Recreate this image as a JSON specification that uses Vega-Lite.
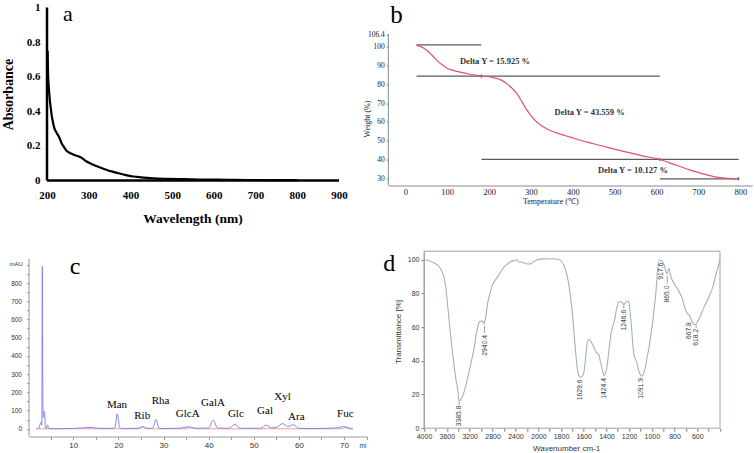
{
  "$schema": "https://vega.github.io/schema/vega-lite/v6.json",
  "background": "white",
  "padding": {"left": 1, "top": 1.5, "right": 0, "bottom": 0},
  "autosize": {"type": "pad"},
  "columns": 2,
  "bounds": "flush",
  "align": "each",
  "spacing": {"row": 65.7, "column": 21.3},
  "config": {
    "view": {"stroke": null},
    "axis": {"grid": false, "labelFlush": false, "labelOverlap": false, "tickCount": 1000}
  },
  "concat": [
        {
          "width": 337.7,
          "height": 173,
          "layer": [
            {
              "data": {"values": [
                {"x":201.5,"y":0.75},{"x":202.5,"y":0.62},{"x":204,"y":0.55},{"x":205.5,"y":0.5},{"x":207,"y":0.46},{"x":209,"y":0.42},{"x":211,"y":0.38},{"x":214,"y":0.34},{"x":218,"y":0.30},{"x":222,"y":0.28},{"x":227,"y":0.26},{"x":231,"y":0.24},{"x":235,"y":0.215},{"x":239,"y":0.20},{"x":243,"y":0.185},{"x":247,"y":0.172},{"x":253,"y":0.162},{"x":259,"y":0.154},{"x":265,"y":0.148},{"x":271,"y":0.143},{"x":277,"y":0.138},{"x":283,"y":0.131},{"x":289,"y":0.12},{"x":295,"y":0.11},{"x":303,"y":0.1},{"x":311,"y":0.091},{"x":323,"y":0.079},{"x":335,"y":0.068},{"x":347,"y":0.058},{"x":359,"y":0.05},{"x":371,"y":0.042},{"x":383,"y":0.035},{"x":395,"y":0.028},{"x":407,"y":0.023},{"x":427,"y":0.018},{"x":447,"y":0.0135},{"x":467,"y":0.011},{"x":487,"y":0.0097},{"x":527,"y":0.0075},{"x":566,"y":0.0058},{"x":606,"y":0.0048},{"x":646,"y":0.0039},{"x":686,"y":0.003},{"x":726,"y":0.0022},{"x":766,"y":0.002},{"x":800,"y":0.002}
              ]},
              "mark": {"type": "line", "color": "black", "strokeWidth": 2.2, "interpolate": "monotone"},
              "encoding": {
                "x": {"field": "x", "type": "quantitative", "title": "Wavelength (nm)",
                  "scale": {"domain": [156.85, 966.4], "nice": false, "zero": false},
                  "axis": {"values": [200,300,400,500,600,700,800,900], "tickCount": 1000, "format": "d", "labelOverlap": false, "domain": false, "ticks": false, "tickSize": 0, "labelPadding": 9,
                    "labelFont": "Liberation Serif", "labelFontWeight": "bold", "labelFontSize": 11, "labelColor": "black",
                    "titleFont": "Liberation Serif", "titleFontWeight": "bold", "titleFontSize": 13.5, "titleColor": "black", "titlePadding": 11, "titleX": 163.5, "titleAlign": "center"}},
                "y": {"field": "y", "type": "quantitative", "title": "Absorbance",
                  "scale": {"domain": [0, 1], "nice": false, "zero": false},
                  "axis": {"values": [0,0.2,0.4,0.6,0.8,1], "tickCount": 1000, "format": ".1~f", "labelOverlap": false, "domain": false, "ticks": false, "tickSize": 0, "offset": -18, "labelPadding": 7,
                    "labelFont": "Liberation Serif", "labelFontWeight": "bold", "labelFontSize": 11, "labelColor": "black",
                    "titleFont": "Liberation Serif", "titleFontWeight": "bold", "titleFontSize": 14, "titleColor": "black", "titlePadding": 11}}
              }
            },
            {
              "data": {"values": [
                {"x":200,"y":0,"x2":200,"y2":1},
                {"x":200,"y":0,"x2":900,"y2":0}
              ]},
              "mark": {"type": "rule", "color": "black", "strokeWidth": 2.5},
              "encoding": {
                "x": {"field": "x", "type": "quantitative", "title": "Wavelength (nm)"},
                "x2": {"field": "x2"},
                "y": {"field": "y", "type": "quantitative", "title": "Absorbance"},
                "y2": {"field": "y2"}
              }
            },
            {
              "data": {"values": [{"x": 250, "y": 0.921, "t": "a"}]},
              "mark": {"type": "text", "font": "Liberation Serif", "fontSize": 22, "align": "center", "baseline": "alphabetic", "color": "black"},
              "encoding": {
                "x": {"field": "x", "type": "quantitative", "title": "Wavelength (nm)"},
                "y": {"field": "y", "type": "quantitative", "title": "Absorbance"},
                "text": {"field": "t"}
              }
            }
          ]
        },
        {
          "width": 364,
          "height": 178,
          "layer": [
            {
              "data": {"values": [
                {"x":-40.6,"y":26.46,"x2":-40.6,"y2":106.4}
              ]},
              "mark": {"type": "rule", "color": "#8a8a8a", "strokeWidth": 1},
              "encoding": {
                "x": {"field": "x", "type": "quantitative", "title": "Temperature (℃)",
                  "scale": {"domain": [-40.6, 828.7], "nice": false, "zero": false},
                  "axis": {"values": [0,100,200,300,400,500,600,700,800], "tickCount": 1000, "format": "d", "labelOverlap": false, "domainColor": "#8a8a8a", "ticks": false, "labelPadding": 2,
                    "labelFont": "Liberation Serif", "labelFontSize": 8.5, "labelColor": "#222",
                    "titleFont": "Liberation Serif", "titleFontSize": 8, "titleFontWeight": "normal", "titleColor": "#222", "titlePadding": 1, "titleX": 162, "titleAlign": "center"}},
                "x2": {"field": "x2"},
                "y": {"field": "y", "type": "quantitative", "title": "Weight (%)",
                  "scale": {"domain": [26.46, 120.43], "nice": false, "zero": false},
                  "axis": {"values": [30,40,50,60,70,80,90,100,106.4], "tickCount": 1000, "format": ".4~g", "labelOverlap": false, "domain": false, "tickSize": 2, "tickColor": "#8a8a8a", "labelPadding": 2,
                    "labelFont": "Liberation Serif", "labelFontSize": 7.5, "labelColor": "#222",
                    "titleFont": "Liberation Serif", "titleFontSize": 8, "titleFontWeight": "normal", "titleColor": "#222", "titlePadding": -4, "titleY": 111}},
                "y2": {"field": "y2"}
              }
            },
            {
              "data": {"values": [
                {"x":27,"x2":181.5,"y":100.7,"y2":100.7},
                {"x":27,"x2":608,"y":84.2,"y2":84.2},
                {"x":182,"x2":796,"y":40.2,"y2":40.2},
                {"x":608,"x2":796,"y":30.0,"y2":30.0},
                {"x":181.5,"x2":181.5,"y":83.4,"y2":85.0},
                {"x":608,"x2":608,"y":39.4,"y2":41.0},
                {"x":796,"x2":796,"y":29.2,"y2":30.8}
              ]},
              "mark": {"type": "rule", "color": "#5a5a5a", "strokeWidth": 1.2},
              "encoding": {
                "x": {"field": "x", "type": "quantitative", "title": "Temperature (℃)"},
                "x2": {"field": "x2"},
                "y": {"field": "y", "type": "quantitative", "title": "Weight (%)"},
                "y2": {"field": "y2"}
              }
            },
            {
              "data": {"values": [
                {"x":26,"y":100.4},{"x":40,"y":99.5},{"x":52,"y":97.7},{"x":64,"y":95.2},{"x":76,"y":92.4},{"x":88,"y":90.2},{"x":100,"y":88.4},{"x":115,"y":87.2},{"x":131,"y":86.3},{"x":155,"y":85.2},{"x":179,"y":84.4},{"x":195,"y":84},{"x":211,"y":83.3},{"x":228,"y":82.2},{"x":243,"y":80.1},{"x":255,"y":77.8},{"x":267,"y":74.8},{"x":279,"y":70.5},{"x":291,"y":66.1},{"x":303,"y":62.5},{"x":314,"y":59.9},{"x":330,"y":57.4},{"x":346,"y":55.5},{"x":370,"y":53.6},{"x":394,"y":52},{"x":420,"y":50.2},{"x":450,"y":48.5},{"x":490,"y":46.2},{"x":529,"y":44.1},{"x":568,"y":42},{"x":607,"y":40.3},{"x":628,"y":38.7},{"x":649,"y":37},{"x":673,"y":35.2},{"x":697,"y":33.5},{"x":720,"y":32.1},{"x":744,"y":30.9},{"x":770,"y":30.2},{"x":796,"y":29.9}
              ]},
              "mark": {"type": "line", "color": "#e2506a", "strokeWidth": 1.2, "interpolate": "monotone"},
              "encoding": {
                "x": {"field": "x", "type": "quantitative", "title": "Temperature (℃)"},
                "y": {"field": "y", "type": "quantitative", "title": "Weight (%)"}
              }
            },
            {
              "data": {"values": [
                {"x":130.6,"y":92.45,"t":"Delta Y = 15.925 %"},
                {"x":356.6,"y":65.2,"t":"Delta Y = 43.559 %"},
                {"x":460,"y":34.4,"t":"Delta Y = 10.127 %"}
              ]},
              "mark": {"type": "text", "font": "Liberation Serif", "fontSize": 8.5, "fontWeight": "bold", "align": "left", "baseline": "middle", "color": "#333"},
              "encoding": {
                "x": {"field": "x", "type": "quantitative", "title": "Temperature (℃)"},
                "y": {"field": "y", "type": "quantitative", "title": "Weight (%)"},
                "text": {"field": "t"}
              }
            },
            {
              "data": {"values": [{"x": -35.8, "y": 112, "t": "b"}]},
              "mark": {"type": "text", "font": "Liberation Serif", "fontSize": 25, "align": "left", "baseline": "alphabetic", "color": "black"},
              "encoding": {
                "x": {"field": "x", "type": "quantitative", "title": "Temperature (℃)"},
                "y": {"field": "y", "type": "quantitative", "title": "Weight (%)"},
                "text": {"field": "t"}
              }
            }
          ]
        },
        {
          "width": 337.7,
          "height": 185.3,
          "layer": [
            {
              "data": {"values": [
                {"x":0.18,"y":-42.3,"x2":0.18,"y2":934}
              ]},
              "mark": {"type": "rule", "color": "#999999", "strokeWidth": 1},
              "encoding": {
                "x": {"field": "x", "type": "quantitative", "title": "mi",
                  "scale": {"domain": [0.18, 75.03], "nice": false, "zero": false},
                  "axis": {"values": [5,10,15,20,25,30,35,40,45,50,55,60,65,70,75], "tickCount": 1000, "labelExpr": "datum.value % 10 == 0 ? datum.label : ''", "format": "d", "labelOverlap": false,
                    "domainColor": "#999999", "tickColor": "#999999", "tickSize": 3, "labelPadding": 2,
                    "labelFont": "Liberation Sans", "labelFontSize": 8, "labelColor": "#333",
                    "titleFont": "Liberation Sans", "titleFontSize": 6.5, "titleFontWeight": "normal", "titleColor": "#333",
                    "titleX": 330, "titleY": 9, "titleAlign": "left", "titleBaseline": "middle"}},
                "x2": {"field": "x2"},
                "y": {"field": "y", "type": "quantitative", "title": "mAU",
                  "scale": {"domain": [-42.3, 975.8], "nice": false, "zero": false},
                  "axis": {"values": [0,50,100,150,200,250,300,350,400,450,500,550,600,650,700,750,800,850,900], "tickCount": 1000, "labelExpr": "datum.value % 100 == 0 && datum.value <= 800 ? datum.label : ''", "format": "d", "labelOverlap": false,
                    "domain": false, "tickColor": "#999999", "tickSize": 2.5, "labelPadding": 5,
                    "labelFont": "Liberation Sans", "labelFontSize": 6.5, "labelColor": "#333",
                    "titleFont": "Liberation Sans", "titleFontSize": 6, "titleFontWeight": "normal", "titleColor": "#333",
                    "titleAngle": 0, "titleX": -20, "titleY": 12.3, "titleAlign": "left", "titleBaseline": "middle"}},
                "y2": {"field": "y2"}
              }
            },
            {
              "data": {"values": [
                {"x":1.8,"y":0},{"x":10,"y":0},{"x":19.3,"y":0},{"x":19.7,"y":3},{"x":20.2,"y":0},{"x":24.6,"y":0},{"x":25.3,"y":8},{"x":26.2,"y":0},{"x":35,"y":0},{"x":35.8,"y":6},{"x":37,"y":0},{"x":52.5,"y":0},{"x":53.2,"y":4},{"x":54,"y":0},{"x":69.5,"y":0},{"x":70.3,"y":6},{"x":71,"y":0},{"x":72,"y":0}
              ]},
              "mark": {"type": "line", "color": "#f0a0a0", "strokeWidth": 1},
              "encoding": {
                "x": {"field": "x", "type": "quantitative", "title": "mi"},
                "y": {"field": "y", "type": "quantitative", "title": "mAU"}
              }
            },
            {
              "data": {"values": [
                {"x":1.8,"y":0},{"x":2.4,"y":5},{"x":2.7,"y":30},{"x":2.9,"y":38},{"x":3.02,"y":20},{"x":3.13,"y":893},{"x":3.25,"y":160},{"x":3.35,"y":60},{"x":3.5,"y":95},{"x":3.65,"y":90},{"x":3.8,"y":10},{"x":4.0,"y":2},{"x":4.3,"y":22},{"x":4.5,"y":2},{"x":6,"y":0},{"x":10,"y":2},{"x":12,"y":5},{"x":13.7,"y":8},{"x":15.5,"y":3},{"x":18,"y":2},{"x":19.2,"y":5},{"x":19.75,"y":82},{"x":20.3,"y":5},{"x":21,"y":1},{"x":24.5,"y":3},{"x":25.4,"y":13},{"x":26.3,"y":3},{"x":27.6,"y":3},{"x":28.3,"y":51},{"x":29,"y":3},{"x":30,"y":1},{"x":33.5,"y":3},{"x":35.6,"y":11},{"x":37,"y":3},{"x":40,"y":4},{"x":41,"y":48},{"x":42,"y":4},{"x":44.5,"y":3},{"x":45.8,"y":24},{"x":47,"y":3},{"x":51.5,"y":3},{"x":52.8,"y":20},{"x":54,"y":5},{"x":55,"y":8},{"x":56.4,"y":29},{"x":57.5,"y":12},{"x":58.8,"y":22},{"x":60,"y":3},{"x":62,"y":1},{"x":68.5,"y":5},{"x":69.9,"y":13},{"x":71,"y":5},{"x":72,"y":0}
              ]},
              "mark": {"type": "line", "color": "#8485f0", "strokeWidth": 1, "interpolate": "monotone"},
              "encoding": {
                "x": {"field": "x", "type": "quantitative", "title": "mi"},
                "y": {"field": "y", "type": "quantitative", "title": "mAU"}
              }
            },
            {
              "data": {"values": [
                {"x":19.69,"y":133.5,"t":"Man"},
                {"x":25.27,"y":68.1,"t":"Rib"},
                {"x":29.33,"y":151.1,"t":"Rha"},
                {"x":35.35,"y":78.6,"t":"GlcA"},
                {"x":40.96,"y":144.0,"t":"GalA"},
                {"x":46.02,"y":78.6,"t":"Glc"},
                {"x":52.49,"y":100.5,"t":"Gal"},
                {"x":56.37,"y":172.5,"t":"Xyl"},
                {"x":59.43,"y":66.5,"t":"Ara"},
                {"x":70.29,"y":78.6,"t":"Fuc"}
              ]},
              "mark": {"type": "text", "font": "Liberation Serif", "fontSize": 11, "align": "center", "baseline": "middle", "color": "black"},
              "encoding": {
                "x": {"field": "x", "type": "quantitative", "title": "mi"},
                "y": {"field": "y", "type": "quantitative", "title": "mAU"},
                "text": {"field": "t"}
              }
            },
            {
              "data": {"values": [{"x": 10.4, "y": 853, "t": "c"}]},
              "mark": {"type": "text", "font": "Liberation Serif", "fontSize": 24, "align": "center", "baseline": "alphabetic", "color": "black"},
              "encoding": {
                "x": {"field": "x", "type": "quantitative", "title": "mi"},
                "y": {"field": "y", "type": "quantitative", "title": "mAU"},
                "text": {"field": "t"}
              }
            }
          ]
        },
        {
          "width": 331.7,
          "height": 177,
          "layer": [
            {
              "data": {"values": [{"x": 4000, "x2": 400, "y": 0, "y2": 105.1}]},
              "mark": {"type": "rect", "fill": null, "fillOpacity": 0, "stroke": "#9aa6aa", "strokeWidth": 1},
              "encoding": {
                "x": {"field": "x", "type": "quantitative", "title": "Wavenumber cm-1",
                  "scale": {"domain": [4625, 4000, 2000, 400], "range": [0, 35.7, 150, 331.7], "nice": false, "zero": false},
                  "axis": {"values": [4000,3800,3600,3400,3200,3000,2800,2600,2400,2200,2000,1900,1800,1700,1600,1500,1400,1300,1200,1100,1000,900,800,700,600,500,400], "tickCount": 1000,
                    "labelExpr": "(datum.value >= 2000 ? datum.value % 400 == 0 : (datum.value % 200 == 0 && datum.value > 400)) ? datum.label : ''", "format": "d", "labelOverlap": false,
                    "domain": false, "tickColor": "#777", "tickSize": 3, "labelPadding": 1.5,
                    "labelFont": "Liberation Sans", "labelFontSize": 7, "labelColor": "#333",
                    "titleFont": "Liberation Sans", "titleFontSize": 8, "titleFontWeight": "normal", "titleColor": "#333", "titlePadding": 4.5, "titleX": 177.8, "titleAlign": "center"}},
                "x2": {"field": "x2"},
                "y": {"field": "y", "type": "quantitative", "title": "Transmittance [%]",
                  "scale": {"domain": [0, 105.1], "nice": false, "zero": false},
                  "axis": {"values": [0,20,40,60,80,100], "tickCount": 1000, "format": "d", "labelOverlap": false, "offset": -35.7, "domainColor": "#9aa6aa", "tickColor": "#777", "tickSize": 3, "labelPadding": 2,
                    "labelFont": "Liberation Sans", "labelFontSize": 7, "labelColor": "#333",
                    "titleFont": "Liberation Sans", "titleFontSize": 8, "titleFontWeight": "normal", "titleColor": "#333", "titlePadding": 5, "titleY": 80.3}},
                "y2": {"field": "y2"}
              }
            },
            {
              "data": {"values": [
                {"x":4000,"y":100},{"x":3825,"y":98.2},{"x":3708,"y":94.7},{"x":3650,"y":89.5},{"x":3620,"y":84},{"x":3592,"y":75},{"x":3563,"y":65},{"x":3534,"y":55},{"x":3505,"y":46},{"x":3475,"y":37.5},{"x":3446,"y":30},{"x":3417,"y":24.5},{"x":3400,"y":20},{"x":3386,"y":16},{"x":3360,"y":16.8},{"x":3330,"y":18.5},{"x":3300,"y":21.4},{"x":3256,"y":27},{"x":3213,"y":33},{"x":3170,"y":40},{"x":3126,"y":47},{"x":3090,"y":55},{"x":3067,"y":59},{"x":3040,"y":62.5},{"x":3021,"y":63.5},{"x":2990,"y":63.6},{"x":2965,"y":63},{"x":2950,"y":62},{"x":2935,"y":63.5},{"x":2910,"y":68},{"x":2892,"y":72.9},{"x":2850,"y":79.5},{"x":2805,"y":84.8},{"x":2760,"y":87.5},{"x":2717,"y":89.7},{"x":2660,"y":92.8},{"x":2601,"y":95.6},{"x":2540,"y":97.5},{"x":2484,"y":99},{"x":2420,"y":99.5},{"x":2367,"y":100},{"x":2350,"y":99},{"x":2338,"y":98.5},{"x":2300,"y":98.8},{"x":2251,"y":98.2},{"x":2190,"y":97.5},{"x":2134,"y":97.6},{"x":2090,"y":98.6},{"x":2047,"y":99.6},{"x":1979,"y":100.4},{"x":1891,"y":100.6},{"x":1850,"y":100.5},{"x":1818,"y":100.2},{"x":1795,"y":99},{"x":1774,"y":96.6},{"x":1752,"y":92},{"x":1730,"y":84.8},{"x":1715,"y":77},{"x":1701,"y":68.9},{"x":1686,"y":57},{"x":1671,"y":45},{"x":1656,"y":35.2},{"x":1640,"y":31},{"x":1627,"y":30.3},{"x":1612,"y":31},{"x":1598,"y":33.3},{"x":1583,"y":42},{"x":1568,"y":51},{"x":1553,"y":52.7},{"x":1540,"y":51.8},{"x":1524,"y":50},{"x":1510,"y":48},{"x":1495,"y":45.5},{"x":1480,"y":44.5},{"x":1465,"y":43.2},{"x":1455,"y":40},{"x":1444,"y":37.2},{"x":1432,"y":33.5},{"x":1421,"y":31.3},{"x":1410,"y":32.5},{"x":1398,"y":35.2},{"x":1380,"y":45},{"x":1362,"y":55},{"x":1348,"y":60},{"x":1333,"y":63},{"x":1320,"y":67.5},{"x":1304,"y":72.9},{"x":1290,"y":75},{"x":1280,"y":75.2},{"x":1270,"y":75},{"x":1260,"y":74.5},{"x":1245,"y":73.3},{"x":1235,"y":74.5},{"x":1222,"y":75.2},{"x":1210,"y":75.5},{"x":1201,"y":74.5},{"x":1192,"y":69},{"x":1180,"y":61},{"x":1168,"y":50},{"x":1156,"y":43.2},{"x":1145,"y":41},{"x":1133,"y":39.2},{"x":1122,"y":36},{"x":1112,"y":33.3},{"x":1100,"y":31.5},{"x":1092,"y":30.9},{"x":1080,"y":31.5},{"x":1068,"y":33.3},{"x":1055,"y":37},{"x":1039,"y":43.2},{"x":1025,"y":48},{"x":1010,"y":55},{"x":995,"y":62},{"x":980,"y":70.9},{"x":965,"y":80},{"x":951,"y":92.7},{"x":936,"y":100},{"x":920,"y":99.5},{"x":907,"y":99},{"x":896,"y":97.5},{"x":886,"y":95.6},{"x":876,"y":93},{"x":868,"y":91.7},{"x":860,"y":93},{"x":855,"y":94.7},{"x":847,"y":94.7},{"x":838,"y":91.5},{"x":828,"y":89},{"x":818,"y":87.7},{"x":800,"y":85.5},{"x":788,"y":84},{"x":774,"y":82.8},{"x":760,"y":81},{"x":745,"y":79},{"x":731,"y":76.8},{"x":716,"y":73},{"x":702,"y":69.9},{"x":687,"y":68},{"x":672,"y":67.3},{"x":658,"y":65},{"x":643,"y":63},{"x":630,"y":61.7},{"x":622,"y":61.4},{"x":610,"y":62},{"x":596,"y":63.5},{"x":584,"y":65},{"x":565,"y":68},{"x":540,"y":71.9},{"x":510,"y":76},{"x":481,"y":80.8},{"x":460,"y":84.5},{"x":438,"y":90.7},{"x":420,"y":95},{"x":400,"y":100.6}
              ]},
              "mark": {"type": "line", "color": "#a3b2b8", "strokeWidth": 1.1, "interpolate": "monotone"},
              "encoding": {
                "x": {"field": "x", "type": "quantitative", "title": "Wavenumber cm-1", "sort": null},
                "y": {"field": "y", "type": "quantitative", "title": "Transmittance [%]"}
              }
            },
            {
              "data": {"values": [
                {"x":2940.4,"y":56.5,"y2":61},
                {"x":1246.6,"y":71,"y2":73.2},
                {"x":865,"y":85.8,"y2":90.5},
                {"x":610,"y":59.5,"y2":61.2},
                {"x":3385.8,"y":13.9,"y2":15.5}
              ]},
              "mark": {"type": "rule", "color": "#9aa6aa", "strokeWidth": 1},
              "encoding": {
                "x": {"field": "x", "type": "quantitative", "title": "Wavenumber cm-1"},
                "y": {"field": "y", "type": "quantitative", "title": "Transmittance [%]"},
                "y2": {"field": "y2"}
              }
            },
            {
              "data": {"values": [
                {"x":3385.8,"y":13.5,"t":"3385.8"},
                {"x":2940.4,"y":55.4,"t":"2940.4"},
                {"x":1629.6,"y":28.9,"t":"1629.6"},
                {"x":1424.4,"y":29.8,"t":"1424.4"},
                {"x":1246.6,"y":70.3,"t":"1246.6"},
                {"x":1091.9,"y":29.8,"t":"1091.9"},
                {"x":917.6,"y":98.2,"t":"917.6"},
                {"x":865.0,"y":84.7,"t":"865.0"},
                {"x":676,"y":63,"t":"667.8"},
                {"x":610,"y":59,"t":"618.2"}
              ]},
              "mark": {"type": "text", "font": "Liberation Sans", "fontSize": 6.8, "angle": 270, "align": "right", "baseline": "middle", "color": "#444"},
              "encoding": {
                "x": {"field": "x", "type": "quantitative", "title": "Wavenumber cm-1"},
                "y": {"field": "y", "type": "quantitative", "title": "Transmittance [%]"},
                "text": {"field": "t"}
              }
            },
            {
              "data": {"values": [{"x": 4712, "y": 93.6, "t": "d"}]},
              "mark": {"type": "text", "font": "Liberation Serif", "fontSize": 24, "align": "left", "baseline": "alphabetic", "color": "black"},
              "encoding": {
                "x": {"field": "x", "type": "quantitative", "title": "Wavenumber cm-1"},
                "y": {"field": "y", "type": "quantitative", "title": "Transmittance [%]"},
                "text": {"field": "t"}
              }
            }
          ]
        }
  ]
}
